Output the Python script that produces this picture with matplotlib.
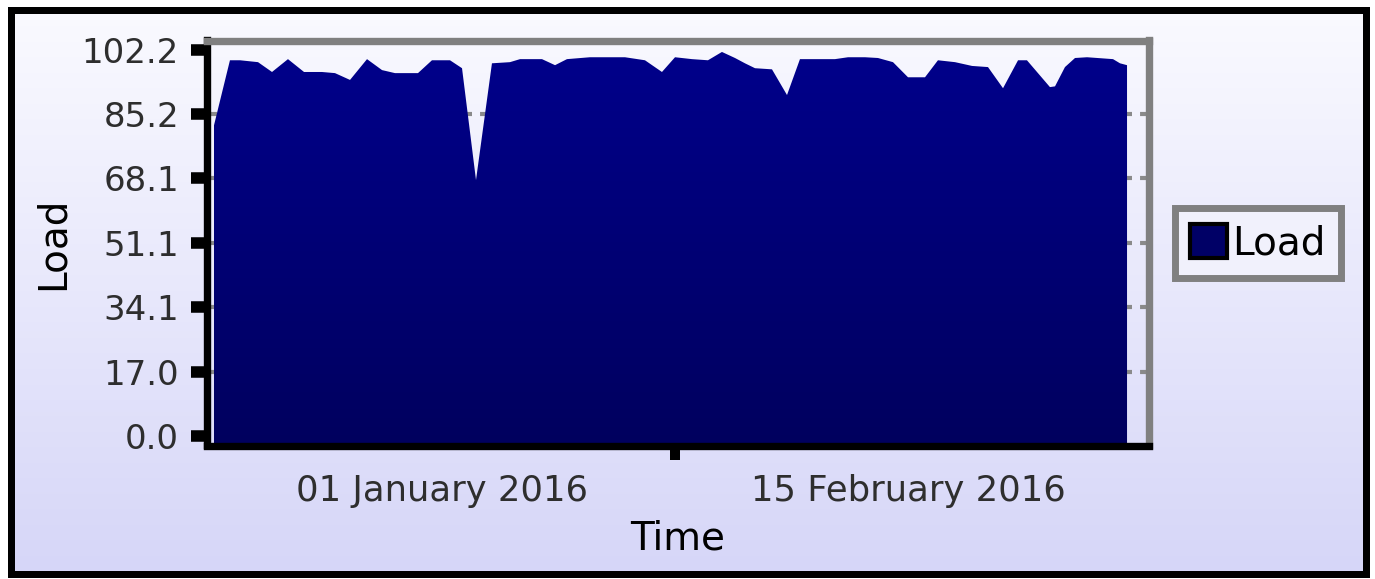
import numpy as np
import pandas as pd
import matplotlib
matplotlib.use("Agg")
import matplotlib.pyplot as plt
import matplotlib.dates as mdates
from matplotlib.patches import Patch, Rectangle
from matplotlib.colors import LinearSegmentedColormap

plt.rcParams['font.family'] = ['DejaVu Sans']
plt.rcParams['lines.scale_dashes'] = False

# ---------------- data ----------------
start_date = pd.Timestamp('2015-12-10')
day_offsets = [0, 1.54, 2.51, 4.25, 5.60, 7.14, 8.69, 10.42, 11.68, 13.13,
               14.77, 16.22, 17.47, 19.69, 21.04, 22.78, 23.94, 25.29, 26.83, 28.57,
               29.54, 31.66, 32.92, 34.07, 36.29, 39.67, 41.60, 43.24, 44.50, 46.14,
               47.68, 49.03, 50.29, 51.25, 52.22, 53.86, 55.31, 56.56, 59.94, 61.20,
               62.84, 64.09, 65.54, 66.99, 68.63, 69.88, 71.53, 73.17, 74.71, 76.16,
               77.61, 78.47, 80.69, 81.18, 82.14, 83.11, 84.27, 86.78, 87.45, 88.13]
load_values = [82.2, 99.4, 99.4, 98.9, 96.3, 99.7, 96.3, 96.3, 96.0, 94.2,
               99.7, 96.8, 96.0, 96.0, 99.4, 99.4, 97.3, 67.7, 98.6, 98.9,
               99.7, 99.7, 98.1, 99.7, 100.2, 100.2, 99.4, 96.3, 100.2, 99.7,
               99.4, 101.6, 100.0, 98.6, 97.3, 97.0, 90.2, 99.7, 99.7, 100.2,
               100.2, 100.0, 98.9, 94.9, 94.9, 99.4, 98.9, 97.9, 97.6, 92.0,
               99.4, 99.4, 92.3, 92.5, 97.6, 100.0, 100.2, 99.7, 98.6, 98.1]
y_ticks = [0.0, 17.03, 34.07, 51.1, 68.13, 85.17, 102.2]
y_tick_labels = ['0.0', '17.0', '34.1', '51.1', '68.1', '85.2', '102.2']
grid_values = [17.03, 34.07, 51.1, 68.13, 85.17]
x_tick_dates = ['2016-01-01', '2016-02-15']
x_tick_labels = ['01 January 2016', '15 February 2016']
x_mark_date = '2016-01-23 12:00'
series_name = 'Load'
x_label = 'Time'
y_label = 'Load'

# ---------------- figure ----------------
W, H = 1375, 579
fig = plt.figure(figsize=(W / 100, H / 100), dpi=100, facecolor='white')

# background gradient with black frame
bg = fig.add_axes([0, 0, 1, 1], zorder=-10)
bg.set_axis_off()
grad = np.linspace(0, 1, 256).reshape(-1, 1)
bg_cmap = LinearSegmentedColormap.from_list('bg', ['#FAFAFF', '#D6D6F8'])
bg.imshow(grad, aspect='auto', cmap=bg_cmap, extent=[11.5, 1366.5, 573.5, 9.5],
          origin='upper')
bg.add_patch(Rectangle((11.5, 9.5), 1355, 564, fill=False, edgecolor='black',
                       linewidth=7 * 0.72))
bg.set_xlim(0, W)
bg.set_ylim(H, 0)

# main axes
L, R, T, B = 207, 1149, 40.5, 445.5
ax = fig.add_axes([L / W, 1 - B / H, (R - L) / W, (B - T) / H])
ax.patch.set_alpha(0)

px_per_day = 10.36
x0 = mdates.date2num(start_date)
xlo = x0 - (214 - L) / px_per_day
xhi = xlo + (R - L) / px_per_day
ylo, yhi = -2.51, 104.63

xs = mdates.date2num(start_date + pd.to_timedelta(day_offsets, unit='D'))
poly = ax.fill_between(xs, load_values, ylo, facecolor='none', edgecolor='none',
                       linewidth=0, zorder=2)
fill_cmap = LinearSegmentedColormap.from_list('fill', ['#00008C', '#00005E'])
img = ax.imshow(grad, aspect='auto', cmap=fill_cmap, extent=[xlo, xhi, ylo, yhi],
                origin='upper', zorder=2, interpolation='bilinear')
img.set_clip_path(poly.get_paths()[0], transform=ax.transData)

for gv in grid_values:
    ax.axhline(gv, color='#8A8A8A', linewidth=3.0, linestyle=(8.6, (5.0, 5.8)),
               zorder=1)

ax.set_xlim(xlo, xhi)
ax.set_ylim(ylo, yhi)

# spines
for side in ['left', 'bottom']:
    ax.spines[side].set_color('black')
    ax.spines[side].set_linewidth(5.3)
for side in ['top', 'right']:
    ax.spines[side].set_color('#808080')
    ax.spines[side].set_linewidth(5.3)
for s in ax.spines.values():
    s.set_zorder(5)

# y ticks
ax.set_yticks(y_ticks, y_tick_labels)
ax.tick_params(axis='y', direction='out', length=11.2, width=8.3, color='black',
               pad=9, labelsize=24.5, labelcolor='#2E2E2E')

# x ticks
ax.set_xticks(mdates.date2num(pd.to_datetime(x_tick_dates)), x_tick_labels)
ax.set_xticks([mdates.date2num(pd.Timestamp(x_mark_date))], minor=True)
ax.tick_params(axis='x', which='major', length=0, pad=20.5, labelsize=25.5,
               labelcolor='#2E2E2E')
ax.tick_params(axis='x', which='minor', direction='out', length=10.4, width=7.2,
               color='black')

ax.set_xlabel(x_label, fontsize=28, labelpad=8.5, color='black')
ax.set_ylabel(y_label, fontsize=28, labelpad=7.5, color='black')

# legend
leg = fig.legend(handles=[Patch(facecolor='#000066', edgecolor='black', linewidth=3)],
                 labels=[series_name], loc='center left',
                 bbox_to_anchor=(1174.5 / W, 1 - 243 / H), frameon=True,
                 fancybox=False, fontsize=28, handlelength=0.95, handleheight=1.0,
                 handletextpad=0.12, borderpad=0.4, borderaxespad=0, framealpha=1)
fr = leg.get_frame()
fr.set_edgecolor('#808080')
fr.set_linewidth(5.0)
fr.set_facecolor('#F1F1FC')

fig.savefig('out.png', dpi=100, facecolor='white')
